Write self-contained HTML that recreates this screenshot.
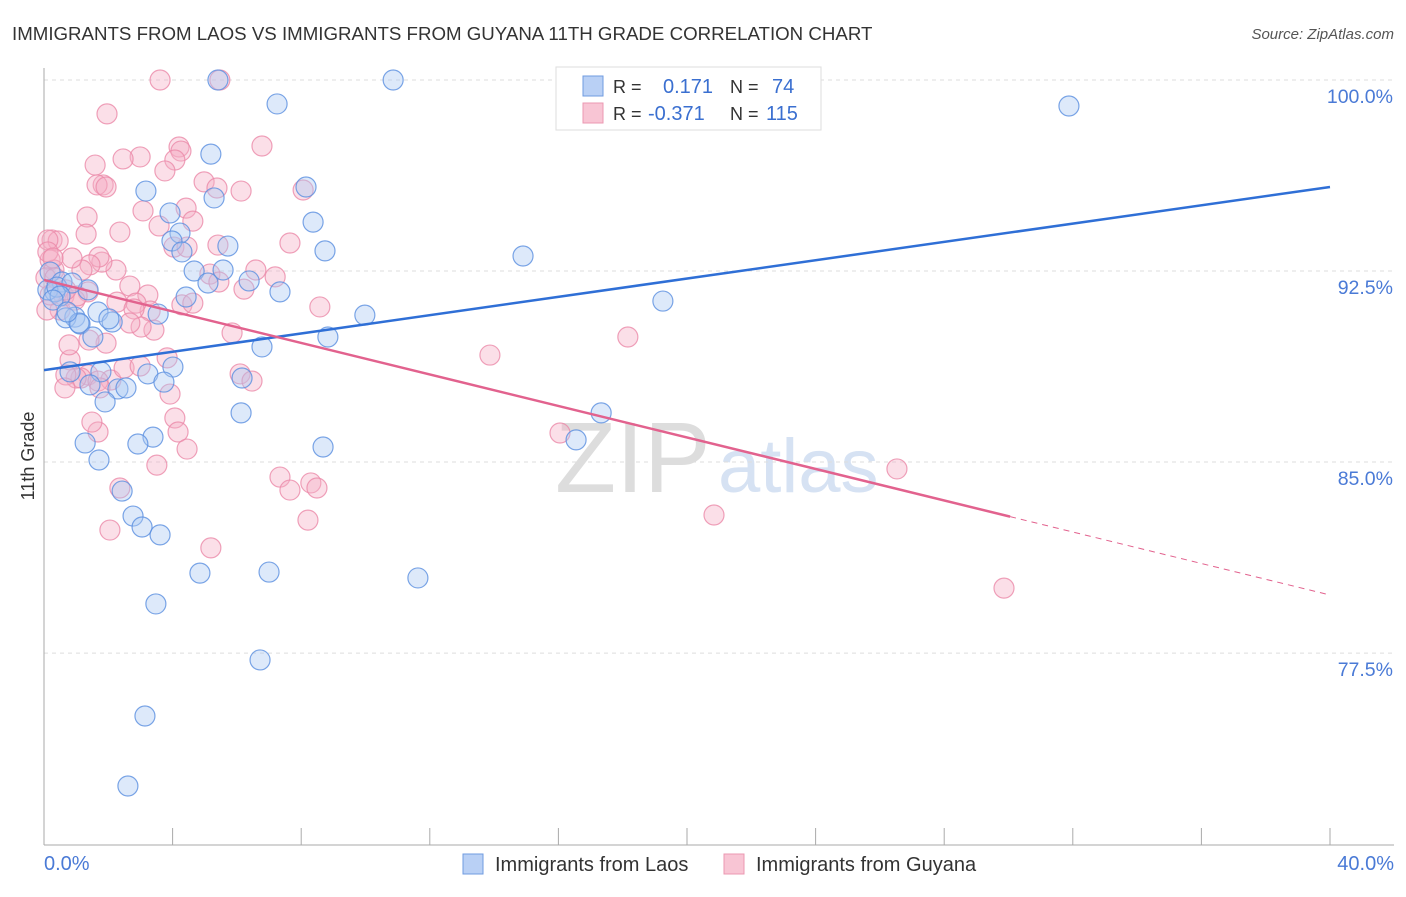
<!DOCTYPE html>
<html><head><meta charset="utf-8"><style>
body{margin:0;background:#fff;font-family:"Liberation Sans",sans-serif}
svg text{font-family:"Liberation Sans",sans-serif}
</style></head><body>
<svg id="c" width="1406" height="892" viewBox="0 0 1406 892" xmlns="http://www.w3.org/2000/svg">
<text x="12" y="40" font-size="18.7" fill="#333">IMMIGRANTS FROM LAOS VS IMMIGRANTS FROM GUYANA 11TH GRADE CORRELATION CHART</text>
<text x="1394" y="39" font-size="15" fill="#555" font-style="italic" text-anchor="end">Source: ZipAtlas.com</text>
<text x="555" y="492" font-size="100" fill="#ddd" font-family="Liberation Serif">ZIP</text>
<text x="718" y="492" font-size="76" fill="#d6e2f3">atlas</text>
<g id="grid"></g><g id="axes"></g><g id="pts"></g><g id="lines"></g>
<text transform="translate(34,456) rotate(-90)" font-size="18" fill="#333" text-anchor="middle">11th Grade</text>
<text x="44" y="870" font-size="20" fill="#4a7ad6">0.0%</text>
<text x="1394" y="870" font-size="20" fill="#4a7ad6" text-anchor="end">40.0%</text>
<g>
<rect x="556" y="67" width="265" height="63" fill="#fff" stroke="#ddd"/>
<rect x="583" y="76" width="20" height="20" fill="#b9d0f5" stroke="#6f9be0"/>
<rect x="583" y="103" width="20" height="20" fill="#f8c5d4" stroke="#eb98b2"/>
<text x="613" y="93" font-size="18" fill="#333">R = </text><text x="663" y="93" font-size="20" fill="#3a6fd0">0.171</text>
<text x="730" y="93" font-size="18" fill="#333">N = </text><text x="772" y="93" font-size="20" fill="#3a6fd0">74</text>
<text x="613" y="120" font-size="18" fill="#333">R = </text><text x="648" y="120" font-size="20" fill="#3a6fd0">-0.371</text>
<text x="730" y="120" font-size="18" fill="#333">N = </text><text x="766" y="120" font-size="20" fill="#3a6fd0">115</text>
</g>
<g>
<rect x="463" y="854" width="20" height="20" fill="#b9d0f5" stroke="#6f9be0"/>
<text x="495" y="871" font-size="20" fill="#333">Immigrants from Laos</text>
<rect x="724" y="854" width="20" height="20" fill="#f8c5d4" stroke="#eb98b2"/>
<text x="756" y="871" font-size="20" fill="#333">Immigrants from Guyana</text>
</g>
</svg>
<script>
const yTicks=[100,92.5,85,77.5];
const yTickLabels=["100.0%","92.5%","85.0%","77.5%"];
const xTicks=[0,4,8,12,16,20,24,28,32,36,40];
const bluePx=[[218,80],[393,80],[277,104],[1069,106],[211,154],[146,191],[306,187],[214,198],[170,213],[313,222],[180,233],[172,241],[228,246],[182,252],[325,251],[523,256],[194,271],[223,270],[50,272],[62,282],[208,283],[249,281],[280,292],[55,292],[88,290],[186,297],[663,301],[365,315],[158,314],[98,312],[75,317],[66,318],[80,324],[112,322],[109,319],[93,337],[328,337],[262,347],[173,367],[148,374],[101,372],[70,372],[164,382],[90,385],[118,389],[126,388],[105,402],[242,378],[241,413],[601,413],[153,437],[138,444],[85,443],[323,447],[576,440],[99,460],[122,491],[133,516],[142,527],[160,535],[200,573],[269,572],[418,578],[156,604],[260,660],[145,716],[128,786],[48,290],[57,287],[72,283],[60,296],[79,323],[53,300],[67,312]];
const pinkPx=[[160,80],[220,80],[107,114],[262,146],[179,147],[181,151],[175,160],[140,157],[123,159],[95,165],[204,182],[241,191],[103,185],[97,185],[106,187],[217,188],[165,171],[303,190],[186,208],[193,221],[143,211],[87,217],[159,226],[120,232],[86,234],[52,240],[58,241],[48,240],[174,247],[218,245],[290,243],[187,247],[256,270],[210,274],[116,270],[102,262],[99,257],[90,265],[82,270],[72,258],[50,260],[54,270],[46,278],[130,286],[275,277],[219,282],[244,289],[148,295],[88,292],[64,296],[60,310],[75,300],[150,311],[77,296],[136,303],[182,305],[117,302],[320,307],[193,303],[232,333],[154,330],[134,309],[141,327],[130,323],[106,343],[628,337],[490,355],[167,358],[70,360],[69,345],[89,340],[240,374],[252,381],[88,375],[81,378],[76,378],[66,375],[111,380],[124,368],[140,366],[65,388],[98,381],[100,388],[170,394],[175,418],[178,432],[98,432],[92,422],[560,433],[187,449],[120,488],[280,477],[311,483],[317,488],[290,490],[157,465],[308,520],[110,530],[211,548],[897,469],[714,515],[1004,588],[47,310],[50,295],[55,278],[66,290],[48,252],[53,258]];
const blueX=bluePx.map(p=>+((p[0]-44)/32.15).toFixed(2));
const blueY=bluePx.map(p=>+(100-(p[1]-80)/25.47).toFixed(2));
const pinkX=pinkPx.map(p=>+((p[0]-44)/32.15).toFixed(2));
const pinkY=pinkPx.map(p=>+(100-(p[1]-80)/25.47).toFixed(2));
const blueTrend=[88.61,95.80];
const pinkTrend=[92.15,79.78];
const pinkSolidEnd=30.05;
const NS="http://www.w3.org/2000/svg";
const sx=v=>44+v*32.15, sy=v=>80+(100-v)*25.47;
function mk(t,a,p){const e=document.createElementNS(NS,t);for(const k in a)e.setAttribute(k,a[k]);p.appendChild(e);return e;}
const grid=document.getElementById('grid'),axes=document.getElementById('axes');
yTicks.forEach((t,i)=>{
 const l=mk('line',{x1:44,x2:1394,y1:sy(t),y2:sy(t),stroke:'#ddd','stroke-dasharray':'4,4'},grid);
 
 
 const tx=mk('text',{x:1393,y:sy(t)+23,'font-size':19.5,fill:'#4a7ad6','text-anchor':'end'},grid);
 tx.textContent=yTickLabels[i];
 
 
});
const ya=mk('line',{x1:44,x2:44,y1:68,y2:845,stroke:'#aaa'},axes);


const xa=mk('line',{x1:44,x2:1394,y1:845,y2:845,stroke:'#aaa'},axes);


xTicks.forEach(t=>{
 const l=mk('line',{x1:sx(t),x2:sx(t),y1:828,y2:845,stroke:'#aaa'},axes);
 
 
});
const pts=document.getElementById('pts');
function draw(X,Y,fill,stroke,name){X.forEach((x,i)=>{
 const c=mk('circle',{cx:sx(x),cy:sy(Y[i]),r:10,fill:fill,'fill-opacity':0.4,stroke:stroke,'stroke-opacity':0.8,'stroke-width':1.2},pts);
 
 
});}
draw(pinkX,pinkY,'#f5b0c6','#eb8aa9','guyana-point');
draw(blueX,blueY,'#a9c7f2','#5a8fe0','laos-point');
const lines=document.getElementById('lines');
const bl=mk('line',{x1:sx(0),y1:sy(blueTrend[0]),x2:sx(40),y2:sy(blueTrend[1]),stroke:'#2f6fd6','stroke-width':2.5},lines);


const py=x=>pinkTrend[0]+(pinkTrend[1]-pinkTrend[0])*x/40;
const pl=mk('line',{x1:sx(0),y1:sy(py(0)),x2:sx(pinkSolidEnd),y2:sy(py(pinkSolidEnd)),stroke:'#e2628e','stroke-width':2.5},lines);


const pd=mk('line',{x1:sx(pinkSolidEnd),y1:sy(py(pinkSolidEnd)),x2:sx(40),y2:sy(py(40)),stroke:'#e2628e','stroke-width':1,'stroke-dasharray':'6,5'},lines);


</script>
</body></html>
